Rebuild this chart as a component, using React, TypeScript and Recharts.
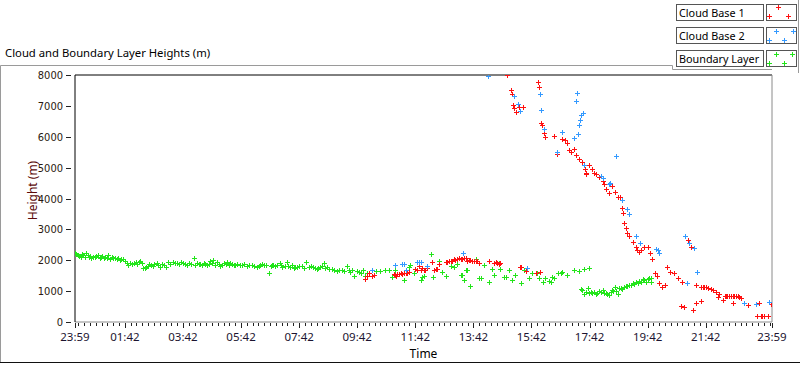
import { ReferenceLine, Scatter, ScatterChart, XAxis, YAxis } from 'recharts'

// minutes after 23:59, height in m
const cloudBase1: [number, number][] = [
	[600, 1380], [604, 1500], [607, 1600], [614, 1490], [617, 1530], [659, 1550], [662, 1530], [664, 1500],
	[666, 1540], [669, 1560], [673, 1575], [676, 1545], [679, 1590], [683, 1575], [686, 1600], [690, 1620],
	[703, 1720], [707, 1700], [710, 1806], [714, 1680], [717, 1760], [721, 1700], [724, 1690], [728, 1740],
	[738, 1955], [741, 1700], [745, 1730], [748, 1720], [752, 1880], [766, 1950], [769, 1955], [772, 1960],
	[776, 1970], [779, 1990], [783, 2030], [786, 2010], [790, 2050], [793, 2060], [797, 2040], [800, 2050],
	[804, 2060], [807, 2070], [810, 1980], [814, 2010], [817, 2000], [821, 1970], [824, 1990], [828, 1980],
	[831, 1960], [835, 1920], [855, 1975], [866, 1900], [869, 1930], [872, 1910], [876, 1880], [879, 1900],
	[919, 1790], [921, 1792], [931, 1665], [952, 1575], [961, 1610],
	[893, 8000], [900, 7515], [903, 7386], [905, 7030], [908, 6922], [912, 6814], [917, 6976], [926, 6954],
	[956, 7764], [958, 7602], [962, 6458], [965, 6382], [969, 6112], [972, 6004], [990, 6026], [996, 5432],
	[1007, 5940], [1012, 5886], [1017, 5800], [1021, 5584], [1024, 5508], [1031, 5616], [1036, 5400],
	[1041, 5292], [1048, 5184], [1053, 4968], [1055, 4815], [1056, 4806], [1062, 5076], [1069, 4968],
	[1073, 4815], [1076, 4806], [1083, 4698], [1090, 4568], [1092, 4460], [1097, 4320], [1103, 4168],
	[1110, 4396], [1115, 4212], [1121, 4060], [1127, 4060], [1131, 3682], [1133, 3540], [1134, 3196],
	[1138, 3034], [1141, 2894], [1145, 2786], [1152, 2602], [1158, 2440], [1162, 2332], [1165, 2278],
	[1169, 2332], [1176, 2440], [1183, 2418], [1188, 2246], [1193, 2030], [1198, 1598], [1202, 1490],
	[1207, 1252], [1212, 1122], [1219, 1198], [1224, 1792], [1230, 1630], [1237, 1576], [1245, 1414],
	[1251, 518], [1255, 1306], [1259, 475], [1266, 2656], [1273, 2418], [1276, 389], [1283, 1198],
	[1283, 626], [1293, 1144], [1293, 680], [1297, 1140], [1300, 1130], [1304, 1122], [1308, 1100],
	[1314, 1058], [1318, 1030], [1324, 980], [1328, 820], [1331, 906], [1338, 712], [1342, 842], [1345, 850],
	[1348, 842], [1352, 830], [1355, 850], [1359, 842], [1359, 604], [1362, 830], [1366, 850], [1369, 842],
	[1372, 820], [1376, 766], [1383, 604], [1390, 550], [1410, 194], [1414, 604], [1417, 194], [1420, 194],
	[1424, 194], [1431, 194], [1438, 572],
]

const cloudBase2: [number, number][] = [
	[614, 1685], [662, 1845], [676, 1866], [679, 1880], [683, 1685], [707, 1930], [710, 1950], [714, 1930],
	[728, 1810], [802, 2224], [854, 7970], [908, 7320], [915, 7062], [919, 6846], [933, 1738], [961, 7374],
	[963, 6868], [969, 6242], [996, 5496], [1007, 6144], [1031, 5950], [1035, 7170], [1037, 7407],
	[1039, 6090], [1041, 6392], [1043, 6544], [1046, 6717], [1049, 6770], [1052, 5098], [1086, 4740],
	[1090, 4676], [1103, 4482], [1106, 4492], [1117, 5390], [1131, 3952], [1140, 3650], [1145, 3495],
	[1158, 2797], [1167, 2548], [1200, 2370], [1204, 2332], [1207, 2224], [1260, 2786], [1264, 1274],
	[1269, 2570], [1279, 2386], [1285, 1609], [1383, 626], [1407, 572], [1433, 637],
]

const boundaryLayer: [number, number][] = [
	[0, 2225], [3, 2190], [7, 2170], [9, 2140], [12, 2115], [15, 2200], [17, 2170], [20, 2120], [23, 2225],
	[26, 2180], [28, 2115], [31, 2150], [34, 2060], [38, 2110], [41, 2090], [44, 2140], [48, 2180],
	[51, 2080], [53, 2115], [56, 2150], [59, 2060], [62, 2100], [66, 2080], [69, 2170], [72, 2050],
	[76, 2110], [79, 2060], [82, 2080], [86, 2030], [89, 2070], [93, 2010], [96, 2040], [100, 2050],
	[103, 1990], [107, 1920], [110, 1855], [113, 1900], [117, 1875], [121, 1920], [126, 1955], [129, 1880],
	[132, 1930], [135, 1975], [138, 1900], [141, 1740], [144, 1760], [147, 1790], [150, 1810], [152, 1875],
	[156, 1850], [161, 1825], [164, 1880], [169, 1900], [172, 1840], [176, 1770], [179, 1865], [183, 1860],
	[188, 1790], [193, 1930], [197, 1880], [203, 1955], [206, 1910], [210, 1900], [214, 1870], [219, 1930],
	[224, 1900], [228, 1875], [231, 1850], [235, 1920], [240, 1880], [245, 2075], [248, 1860], [252, 1900],
	[256, 1880], [259, 1875], [262, 1850], [266, 1900], [269, 1870], [272, 1845], [276, 1890], [279, 1965],
	[283, 1920], [286, 2010], [290, 1860], [293, 1940], [297, 1880], [300, 1810], [304, 1840], [307, 1900],
	[311, 1870], [314, 1930], [318, 1860], [321, 1900], [325, 1890], [328, 1855], [331, 1830], [335, 1875],
	[340, 1840], [345, 1855], [350, 1870], [355, 1810], [360, 1850], [366, 1830], [370, 1800], [376, 1790],
	[380, 1820], [383, 1855], [387, 1880], [390, 1830], [395, 1840], [400, 1575], [404, 1800], [407, 1855],
	[410, 1860], [414, 1810], [418, 1840], [423, 1900], [426, 1850], [428, 1790], [433, 1820], [438, 1930],
	[441, 1800], [445, 1790], [448, 1830], [452, 1740], [455, 1770], [459, 1790], [463, 1810], [469, 1810],
	[473, 1760], [478, 1930], [483, 1790], [487, 1820], [492, 1770], [495, 1740], [499, 1705], [503, 1760],
	[507, 1790], [510, 1800], [514, 1920], [517, 1740], [521, 1770], [524, 1720], [531, 1705], [535, 1690],
	[541, 1665], [545, 1700], [552, 1685], [556, 1650], [562, 1810], [566, 1680], [569, 1620], [573, 1700],
	[577, 1490], [582, 1640], [586, 1630],
	[590, 1600], [596, 1680], [600, 1500], [604, 1600], [614, 1680], [621, 1640], [631, 1665], [641, 1685],
	[648, 1680], [655, 1468], [662, 1680], [679, 1360], [690, 1770], [693, 1846], [700, 1600], [707, 1954],
	[714, 1360], [717, 1468], [721, 1490], [735, 2200], [740, 1447], [752, 1976], [759, 1630], [766, 1490],
	[776, 1814], [783, 1790], [790, 1868], [797, 1520], [800, 1522], [804, 1360], [807, 1684], [810, 1685],
	[817, 1176], [828, 2050], [834, 1414], [838, 1415], [845, 1846], [855, 1306], [862, 1730], [866, 1520],
	[876, 1900], [879, 1717], [886, 1468], [890, 1468], [897, 1684], [903, 1360], [910, 1522], [921, 1252],
	[928, 1684], [938, 1436], [945, 1576], [955, 1575], [959, 1414], [966, 1306], [972, 1414], [979, 1328],
	[983, 1306], [986, 1468], [990, 1415], [997, 1576], [1004, 1600], [1007, 1630], [1017, 1522],
	[1031, 1684], [1041, 1652], [1052, 1706], [1062, 1738],
	[1045, 1068], [1048, 1036], [1052, 906], [1055, 980], [1059, 1090], [1062, 940], [1066, 980], [1069, 928],
	[1073, 960], [1076, 900], [1079, 950], [1083, 1004], [1086, 960], [1090, 1036], [1093, 928], [1097, 950],
	[1100, 920], [1104, 874], [1107, 960], [1110, 1036], [1111, 1014], [1115, 1144], [1118, 1000], [1121, 906],
	[1124, 1112], [1128, 1090], [1131, 1080], [1135, 1144], [1138, 1176], [1141, 1160], [1145, 1198],
	[1148, 1200], [1152, 1252], [1155, 1230], [1159, 1280], [1164, 1252], [1166, 1328], [1169, 1300],
	[1173, 1382], [1176, 1350], [1179, 1296], [1183, 1380], [1186, 1414], [1190, 1436], [1191, 1306],
]

const majorTimes = [0, 103, 223, 343, 463, 583, 703, 823, 943, 1063, 1183, 1303, 1440]
const majorLabels = ['23:59', '01:42', '03:42', '05:42', '07:42', '09:42', '11:42', '13:42', '15:42', '17:42', '19:42', '21:42', '23:59']
const heightTicks = [0, 1000, 2000, 3000, 4000, 5000, 6000, 7000, 8000]

const seriesNames = ['Cloud Base 1', 'Cloud Base 2', 'Boundary Layer']
const seriesColors = ['#ff1010', '#3399ff', '#22e51a']

const uiFont = '"Segoe UI", "Noto Sans", sans-serif'

const toPoints = (rows: [number, number][]) => rows.map(([t, h]) => ({ t, h }))

const allTimeTicks = (() => {
	const list = [...majorTimes]
	for (let m = 91; m > 0; m -= 12) list.push(m)
	for (let m = 115; m < 1440; m += 12) list.push(m)
	return Array.from(new Set(list)).sort((a, b) => a - b)
})()

function Plus({ cx, cy, fill }: any) {
	if (cx == null || cy == null) return null
	const x = Math.round(cx)
	const y = Math.round(cy)
	return (
		<g fill={fill} shapeRendering='crispEdges'>
			<rect x={x - 2} y={y} width={5} height={1} />
			<rect x={x} y={y - 2} width={1} height={5} />
		</g>
	)
}

function TimeTick({ x, y, payload }: any) {
	const i = majorTimes.indexOf(payload.value)
	const px = Math.round(x) + 0.5
	return (
		<g>
			<line x1={px} x2={px} y1={y - 7} y2={i >= 0 ? y - 2 : y - 4} stroke='#222' />
			{i >= 0 && (
				<text x={x} y={y + 11} textAnchor='middle' fontSize={11.5} fontFamily={uiFont} fill='#1c1430'>
					{majorLabels[i]}
				</text>
			)}
		</g>
	)
}

function HeightTick({ x, y, payload }: any) {
	const py = Math.round(y) + 0.5
	return (
		<g>
			<line x1={x + 3} x2={x + 8} y1={py} y2={py} stroke='#222' />
			<text x={x} y={y + 4} textAnchor='end' fontSize={11} fontFamily='"Liberation Sans Narrow", "DejaVu Sans Condensed", sans-serif' fill='#2a1a10'>
				{payload.value}
			</text>
		</g>
	)
}

function LegendItem({ index }: { index: number }) {
	const top = 4 + index * 23
	const color = seriesColors[index]
	const marks = [
		[[12, 3], [3, 12], [22, 12]],
		[[10, 4], [3, 13], [18, 13], [27, 4]],
		[[10, 4], [26, 4], [3, 13], [18, 13]],
	][index]
	return (
		<>
			<div
				style={{
					position: 'absolute',
					left: 676,
					top,
					width: 84,
					height: 15,
					border: '1px solid #555',
					background: '#fff',
					fontFamily: uiFont,
					fontSize: 10.8,
					lineHeight: '15px',
					paddingLeft: 2,
					color: '#000',
					whiteSpace: 'nowrap',
					overflow: 'hidden',
				}}
			>
				{seriesNames[index]}
			</div>
			<svg style={{ position: 'absolute', left: 766, top, width: 31, height: 17 }} width={31} height={17}>
				<rect x={0.5} y={0.5} width={30} height={16} fill='#fff' stroke='#555' />
				{marks.map(([mx, my], k) => (
					<Plus key={k} cx={mx} cy={my} fill={color} />
				))}
			</svg>
		</>
	)
}

export default function App() {
	return (
		<div style={{ position: 'fixed', left: 0, top: 0, width: 800, height: 365, background: '#fff', overflow: 'hidden' }}>
			<svg style={{ position: 'absolute', left: 0, top: 0 }} width={800} height={365}>
				<polyline points='0.5,362 0.5,65.5 672.5,65.5 672.5,69.5 772,69.5' fill='none' stroke='#9a9a9a' />
				<line x1={798.5} x2={798.5} y1={0} y2={73} stroke='#9a9a9a' />
				<line x1={0} x2={800} y1={362.5} y2={362.5} stroke='#111' />
			</svg>
			<div style={{ position: 'absolute', left: 5, top: 45, fontFamily: uiFont, fontSize: 11.3, color: '#000' }}>
				Cloud and Boundary Layer Heights (m)
			</div>
			{[0, 1, 2].map((i) => (
				<LegendItem key={i} index={i} />
			))}
			<div style={{ position: 'absolute', left: 0, top: 0 }}>
				<ScatterChart width={800} height={365} margin={{ top: 75, right: 28, bottom: 13, left: 15 }}>
					<XAxis
						type='number'
						dataKey='t'
						domain={[0, 1440]}
						ticks={allTimeTicks}
						interval={0}
						tickLine={false}
						tickSize={6}
						tickMargin={2}
						tick={<TimeTick />}
						axisLine={{ stroke: '#8a8a8a' }}
						height={30}
						allowDataOverflow
						label={{
							content: ({ viewBox }: any) => (
								<text x={viewBox.x + viewBox.width / 2} y={viewBox.y + 36} textAnchor='middle' fontSize={12} fontFamily={uiFont} fill='#000'>
									Time
								</text>
							),
						}}
					/>
					<YAxis
						type='number'
						dataKey='h'
						domain={[0, 8000]}
						ticks={heightTicks}
						interval={0}
						tickLine={false}
						tickSize={8}
						tickMargin={4}
						tick={<HeightTick />}
						axisLine={{ stroke: '#000' }}
						width={60}
						allowDataOverflow
						label={{
							content: ({ viewBox }: any) => {
								const cx = viewBox.x + 17
								const cy = viewBox.y + viewBox.height / 2 - 8
								return (
									<text x={cx} y={cy} transform={`rotate(-90 ${cx} ${cy})`} textAnchor='middle' dominantBaseline='central' fontSize={12} fontFamily={uiFont} fill='#5c0a0a'>
										Height (m)
									</text>
								)
							},
						}}
					/>
					<ReferenceLine y={8000} stroke='#000' ifOverflow='visible' />
					<ReferenceLine x={1440} stroke='#8a8a8a' ifOverflow='visible' />
					<Scatter name={seriesNames[2]} data={toPoints(boundaryLayer)} fill={seriesColors[2]} shape={<Plus />} isAnimationActive={false} />
					<Scatter name={seriesNames[0]} data={toPoints(cloudBase1)} fill={seriesColors[0]} shape={<Plus />} isAnimationActive={false} />
					<Scatter name={seriesNames[1]} data={toPoints(cloudBase2)} fill={seriesColors[1]} shape={<Plus />} isAnimationActive={false} />
				</ScatterChart>
			</div>
		</div>
	)
}
